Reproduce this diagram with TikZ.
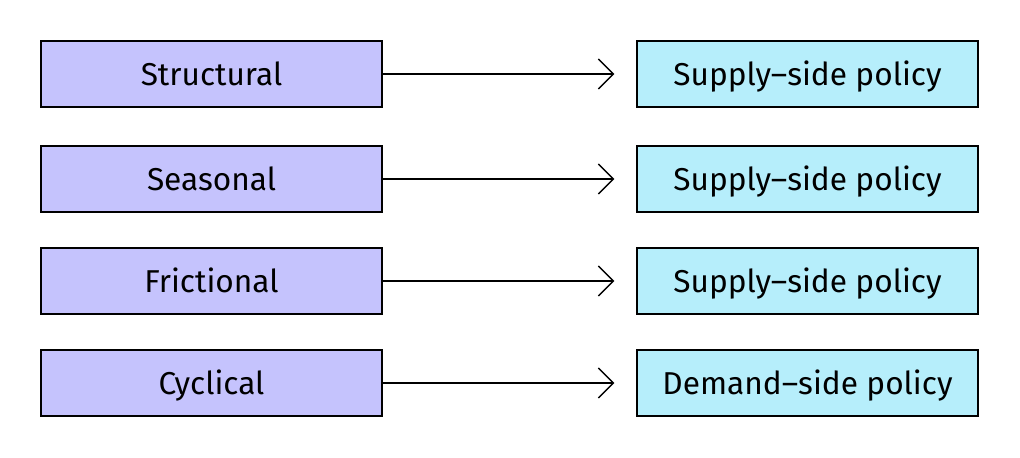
\documentclass[tikz,border=0pt]{standalone}
\usepackage{fontspec}
\setmainfont{Fira Sans}
\usetikzlibrary{arrows.meta,positioning}
\definecolor{kindfill}{HTML}{C5C3FD}
\definecolor{policyfill}{HTML}{B6EEFB}
\tikzset{
  kind/.style={rectangle,draw=black,line width=0.8pt,fill=kindfill,minimum width=6.82cm,minimum height=1.32cm,text height=0.56cm,text depth=0.1cm,font=\fontsize{18}{22}\selectfont},
  policy/.style={kind,fill=policyfill},
  link/.style={line width=0.8pt,-{Straight Barb[length=3mm,width=6mm]},shorten >=0.44cm}
}
\begin{document}
\begin{tikzpicture}
\useasboundingbox (0,0) rectangle (20.4,9.16);
\node[kind] (structural) at (4.23,7.68) {Structural};
\node[kind] (seasonal)   at (4.23,5.58) {Seasonal};
\node[kind] (frictional) at (4.23,3.54) {Frictional};
\node[kind] (cyclical)   at (4.23,1.50) {Cyclical};
\node[policy] (supply1) at (16.15,7.68) {Supply–side policy};
\node[policy] (supply2) at (16.15,5.58) {Supply–side policy};
\node[policy] (supply3) at (16.15,3.54) {Supply–side policy};
\node[policy] (demand)  at (16.15,1.50) {Demand–side policy};
\draw[link] (structural) -- (supply1);
\draw[link] (seasonal)   -- (supply2);
\draw[link] (frictional) -- (supply3);
\draw[link] (cyclical)   -- (demand);
\end{tikzpicture}
\end{document}
